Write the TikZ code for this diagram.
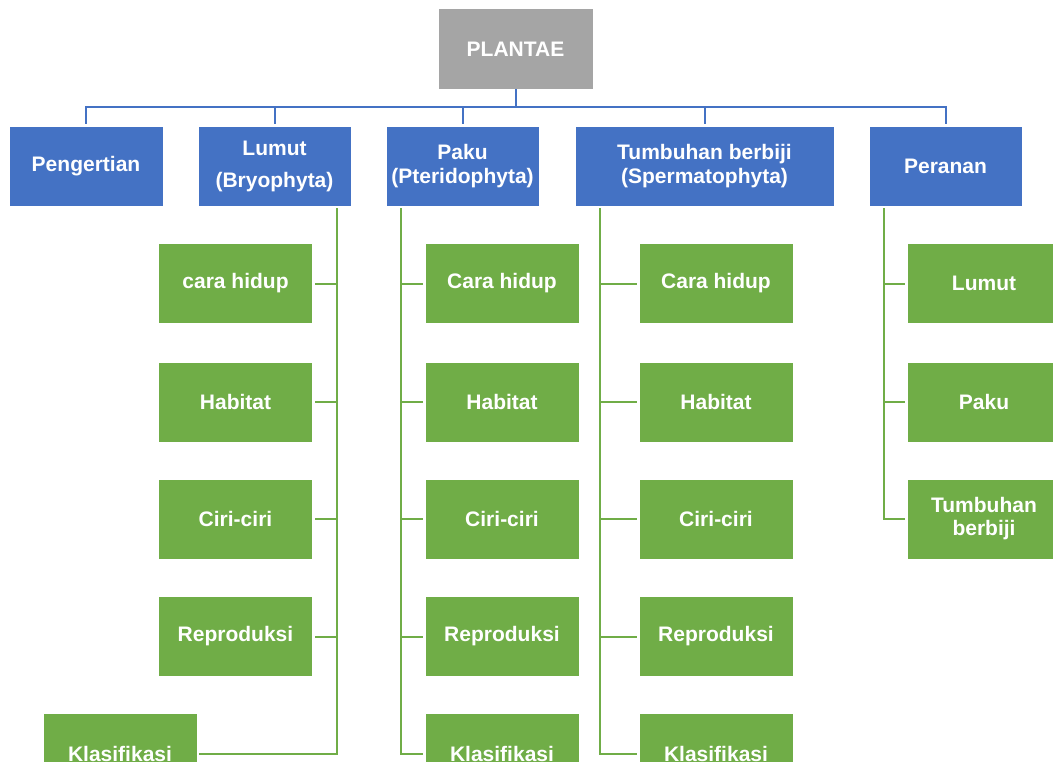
\documentclass[tikz,border=0pt]{standalone}
\usepackage{fontspec}
\setmainfont{Liberation Sans}
\definecolor{gblue}{HTML}{4472C4}
\definecolor{ggreen}{HTML}{70AD47}
\definecolor{ggray}{HTML}{A5A5A5}
\begin{document}
\begin{tikzpicture}[x=1pt,y=-1pt,
  box/.style={rectangle, inner sep=0pt, minimum height=80pt, align=center, text=white,
              font=\fontsize{21}{24}\selectfont\bfseries},
  bluebox/.style={box, fill=gblue, draw=white, line width=0.6pt},
  greenbox/.style={box, fill=ggreen, draw=white, line width=0.6pt, minimum width=154pt},
  graybox/.style={box, fill=ggray, minimum width=154pt},
  bline/.style={draw=gblue, line width=2pt},
  gline/.style={draw=ggreen, line width=2pt}]
\useasboundingbox (0,0) rectangle (1053,761);
\clip (0,0) rectangle (1053,761);

% top
\node[graybox] (plantae) at (515.5,49) {PLANTAE};

% blue level
\node[bluebox, minimum width=154pt] (peng) at (86,166) {Pengertian};
\node[bluebox, minimum width=153pt] (lumut) at (274.5,166) {Lumut\\[8pt](Bryophyta)};
\node[bluebox, minimum width=153pt] (paku) at (462.5,166) {Paku\\(Pteridophyta)};
\node[bluebox, minimum width=259pt] (tumb) at (704.5,166) {Tumbuhan berbiji\\(Spermatophyta)};
\node[bluebox, minimum width=153pt] (peran) at (945.5,166) {Peranan};

\foreach \n in {peng,lumut,paku,tumb,peran}
  \draw[bline] (plantae.south) -- ++(0,18) -| ([yshift=2pt]\n.north);

% Lumut children
\node[greenbox] (l1) at (235.5,283.5) {cara hidup};
\node[greenbox] (l2) at (235.5,402) {Habitat};
\node[greenbox] (l3) at (235.5,519) {Ciri-ciri};
\node[greenbox] (l4) at (235.5,636.5) {Reproduksi};
\node[greenbox] (l5) at (120,753.5) {Klasifikasi};
\foreach \c in {l1,l2,l3,l4,l5}
  \draw[gline] ([xshift=-14pt,yshift=-2pt]lumut.south east) |- ([xshift=2pt]\c.east);

% Paku children
\node[greenbox] (p1) at (502,283.5) {Cara hidup};
\node[greenbox] (p2) at (502,402) {Habitat};
\node[greenbox] (p3) at (502,519) {Ciri-ciri};
\node[greenbox] (p4) at (502,636.5) {Reproduksi};
\node[greenbox] (p5) at (502,753.5) {Klasifikasi};
\foreach \c in {p1,p2,p3,p4,p5}
  \draw[gline] ([xshift=15pt,yshift=-2pt]paku.south west) |- ([xshift=-2pt]\c.west);

% Tumbuhan children
\node[greenbox] (t1) at (716,283.5) {Cara hidup};
\node[greenbox] (t2) at (716,402) {Habitat};
\node[greenbox] (t3) at (716,519) {Ciri-ciri};
\node[greenbox] (t4) at (716,636.5) {Reproduksi};
\node[greenbox] (t5) at (716,753.5) {Klasifikasi};
\foreach \c in {t1,t2,t3,t4,t5}
  \draw[gline] ([xshift=25pt,yshift=-2pt]tumb.south west) |- ([xshift=-2pt]\c.west);

% Peranan children
\node[greenbox] (r1) at (984,283.5) {Lumut};
\node[greenbox] (r2) at (984,402) {Paku};
\node[greenbox, font=\fontsize{21}{23}\selectfont\bfseries] (r3) at (984,519) {Tumbuhan\\berbiji};
\foreach \c in {r1,r2,r3}
  \draw[gline] ([xshift=15pt,yshift=-2pt]peran.south west) |- ([xshift=-2pt]\c.west);
\end{tikzpicture}
\end{document}
